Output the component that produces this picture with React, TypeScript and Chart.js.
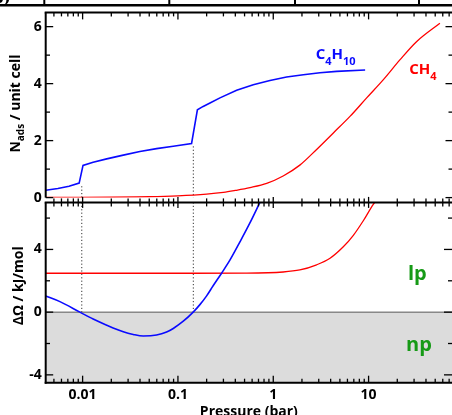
import React, { useEffect, useRef } from 'react';
import { Chart, registerables } from 'chart.js';

Chart.register(...registerables);

// ---------- data ----------
const X_MIN = 0.0041;
const X_MAX = 75;
const X_TICK_VALUES = [0.01, 0.1, 1, 10];
const X_TICK_LABELS = ['0.01', '0.1', '1', '10'];

const TOP_Y_TICKS = [0, 2, 4, 6];
const TOP_Y_MINOR = [1, 3, 5];
const BOT_Y_TICKS = [-4, 0, 4];
const BOT_Y_MINOR = [-2, 2, 6];

// upper panel: N_ads (molecules / unit cell)
const C4H10_N_P = [
  0.0041, 0.0055, 0.0072, 0.0092, 0.0101, 0.0129, 0.0179, 0.0267, 0.0399, 0.0597, 0.0893, 0.139,
  0.16, 0.184, 0.217, 0.276, 0.413, 0.617, 0.923, 1.38, 2.07, 3.09, 4.62, 9.2,
];
const C4H10_N = [
  0.26, 0.32, 0.4, 0.51, 1.13, 1.24, 1.36, 1.49, 1.62, 1.72, 1.8, 1.9,
  3.08, 3.2, 3.32, 3.5, 3.77, 3.96, 4.11, 4.23, 4.31, 4.38, 4.43, 4.48,
];
const CH4_N_P = [0.0041, 0.05, 0.1, 0.2, 0.3, 0.4, 0.57, 0.853, 1.27, 1.9, 2.85, 4.27, 6.38, 9.55, 14.3, 21.4, 32, 56];
const CH4_N = [0.003, 0.03, 0.06, 0.12, 0.18, 0.25, 0.35, 0.5, 0.76, 1.14, 1.69, 2.27, 2.85, 3.5, 4.14, 4.84, 5.48, 6.12];

// lower panel: ΔΩ (kJ/mol)
const C4H10_DG_P = [
  0.0041, 0.00578, 0.00937, 0.0129, 0.0179, 0.0267, 0.034, 0.0433, 0.0597, 0.076, 0.0893, 0.1138,
  0.1445, 0.17, 0.2, 0.234, 0.288, 0.352, 0.447, 0.569, 0.724,
];
const C4H10_DG = [
  1.03, 0.67, 0, -0.44, -0.83, -1.25, -1.42, -1.52, -1.46, -1.27, -1.04, -0.58,
  0, 0.48, 1.04, 1.68, 2.5, 3.33, 4.48, 5.69, 7.0,
];
const CH4_DG_P = [0.0041, 0.1, 0.5, 1.27, 1.9, 2.85, 3.94, 5.43, 6.92, 8.8, 11.2, 11.6];
const CH4_DG = [2.48, 2.48, 2.49, 2.56, 2.69, 3.02, 3.44, 4.17, 4.9, 5.83, 6.88, 7.0];

// step (transition) pressures and where the dotted guides start in the upper panel
const STEP_P = [0.0098, 0.145];
const STEP_N_START = [0.4, 1.8];

// ---------- styling ----------
const FONT = '"Open Sans", sans-serif';
const BLUE = '#0a0aff';
const RED = '#ff0000';
const GREEN = '#169a16';

const pts = (xs: number[], ys: number[]) => xs.map((x, i) => ({ x, y: ys[i] }));

function xTicks() {
  const major: number[] = [];
  const minor: number[] = [];
  for (let e = -3; e <= 2; e++) {
    for (let k = 1; k <= 9; k++) {
      const v = k * Math.pow(10, e);
      if (v < X_MIN || v > X_MAX) continue;
      (k === 1 ? major : minor).push(v);
    }
  }
  return { major, minor };
}

function seg(ctx: CanvasRenderingContext2D, x1: number, y1: number, x2: number, y2: number) {
  ctx.beginPath();
  ctx.moveTo(x1, y1);
  ctx.lineTo(x2, y2);
  ctx.stroke();
}

type Part = { t: string; size: number; dy: number };

function drawParts(ctx: CanvasRenderingContext2D, x: number, y: number, parts: Part[], color: string) {
  ctx.save();
  ctx.fillStyle = color;
  ctx.textBaseline = 'alphabetic';
  ctx.textAlign = 'left';
  let cx = x;
  for (const p of parts) {
    ctx.font = `bold ${p.size}px ${FONT}`;
    ctx.fillText(p.t, cx, y + p.dy);
    cx += ctx.measureText(p.t).width;
  }
  ctx.restore();
}

function drawRotated(ctx: CanvasRenderingContext2D, baseX: number, centerY: number, parts: Part[]) {
  ctx.save();
  ctx.translate(baseX, centerY);
  ctx.rotate(-Math.PI / 2);
  let total = 0;
  for (const p of parts) {
    ctx.font = `bold ${p.size}px ${FONT}`;
    total += ctx.measureText(p.t).width;
  }
  ctx.fillStyle = '#000';
  ctx.textBaseline = 'alphabetic';
  ctx.textAlign = 'left';
  let x = -total / 2;
  for (const p of parts) {
    ctx.font = `bold ${p.size}px ${FONT}`;
    ctx.fillText(p.t, x, p.dy);
    x += ctx.measureText(p.t).width;
  }
  ctx.restore();
}

const topDecor = {
  id: 'topDecor',
  afterDraw(chart: any) {
    const { ctx, chartArea: a, scales } = chart;
    const xs = scales.x;
    const ys = scales.y;
    const { major, minor } = xTicks();
    ctx.save();
    ctx.strokeStyle = '#000';
    // remnants of the panel above
    ctx.lineWidth = 2.4;
    seg(ctx, 0, 5.3, 460, 5.3);
    ctx.lineWidth = 2;
    for (const vx of [44.3, 169.3, 295, 419]) seg(ctx, vx, 0, vx, 5.3);
    ctx.fillStyle = '#000';
    ctx.font = 'bold 15px "DejaVu Serif"';
    ctx.textAlign = 'right';
    ctx.textBaseline = 'alphabetic';
    ctx.fillText('(b)', 10.5, 2.5);

    // frame
    ctx.lineWidth = 2;
    seg(ctx, a.left - 1, a.top, a.right + 2, a.top);
    seg(ctx, a.left, a.top, a.left, a.bottom);
    // top x ticks
    ctx.lineWidth = 1.3;
    for (const v of major) { const p = xs.getPixelForValue(v); seg(ctx, p, a.top, p, a.top + 7); }
    for (const v of minor) { const p = xs.getPixelForValue(v); seg(ctx, p, a.top, p, a.top + 4); }
    // y ticks
    for (const v of TOP_Y_TICKS) {
      const p = ys.getPixelForValue(v);
      seg(ctx, a.left, p, a.left + 7.5, p);
      seg(ctx, a.right, p, a.right - 6.5, p);
    }
    for (const v of TOP_Y_MINOR) {
      const p = ys.getPixelForValue(v);
      seg(ctx, a.left, p, a.left + 4.3, p);
      seg(ctx, a.right, p, a.right - 3.5, p);
    }
    ctx.restore();

    drawParts(ctx, 315.7, 59.3, [
      { t: 'C', size: 15, dy: 0 },
      { t: '4', size: 11, dy: 5.5 },
      { t: 'H', size: 15, dy: 0 },
      { t: '10', size: 11, dy: 5.5 },
    ], BLUE);
    drawParts(ctx, 409.3, 74.3, [
      { t: 'CH', size: 15, dy: 0 },
      { t: '4', size: 11, dy: 5.5 },
    ], RED);
    drawRotated(ctx, 20, 103.5, [
      { t: 'N', size: 14, dy: 0 },
      { t: 'ads', size: 10, dy: 3.5 },
      { t: ' / unit cell', size: 14, dy: 0 },
    ]);
  },
};

const botDecor = {
  id: 'botDecor',
  afterDraw(chart: any) {
    const { ctx, chartArea: a, scales } = chart;
    const xs = scales.x;
    const ys = scales.y;
    const { major, minor } = xTicks();
    ctx.save();
    ctx.strokeStyle = '#000';
    ctx.lineWidth = 2;
    seg(ctx, a.left - 1, a.top, a.right + 2, a.top);
    seg(ctx, a.left - 1, a.bottom, a.right + 2, a.bottom);
    seg(ctx, a.left, a.top, a.left, a.bottom + 1);
    ctx.lineWidth = 1.3;
    for (const v of major) {
      const p = xs.getPixelForValue(v);
      seg(ctx, p, a.top - 5.5, p, a.top + 5.5);
      seg(ctx, p, a.bottom, p, a.bottom - 7);
    }
    for (const v of minor) {
      const p = xs.getPixelForValue(v);
      seg(ctx, p, a.top - 4, p, a.top + 4);
      seg(ctx, p, a.bottom, p, a.bottom - 4);
    }
    for (const v of BOT_Y_TICKS) {
      const p = ys.getPixelForValue(v);
      seg(ctx, a.left, p, a.left + 7.5, p);
      seg(ctx, a.right, p, a.right - 8, p);
    }
    for (const v of BOT_Y_MINOR) {
      const p = ys.getPixelForValue(v);
      seg(ctx, a.left, p, a.left + 4.3, p);
      seg(ctx, a.right, p, a.right - 4, p);
    }
    ctx.restore();

    drawParts(ctx, 408, 90, [{ t: 'lp', size: 20, dy: 0 }], GREEN);
    drawParts(ctx, 406, 160.7, [{ t: 'np', size: 20, dy: 0 }], GREEN);
    drawRotated(ctx, 22.5, 95.8, [{ t: 'ΔΩ / kJ/mol', size: 14, dy: 0 }]);
  },
};

const lineDs = (label: string, data: any[], color: string, width: number, smooth: boolean) => ({
  label,
  data,
  borderColor: color,
  backgroundColor: color,
  borderWidth: width,
  pointRadius: 0,
  fill: false,
  tension: 0,
  cubicInterpolationMode: smooth ? ('monotone' as const) : ('default' as const),
});

const dotDs = (data: any[]) => ({
  label: 'transition',
  data,
  borderColor: '#333',
  borderWidth: 1,
  borderDash: [1.2, 2.2],
  pointRadius: 0,
  fill: false,
  tension: 0,
});

const tickFont = { family: FONT, weight: 'bold' as const, size: 14 };

export default function App() {
  const topRef = useRef<HTMLCanvasElement>(null);
  const botRef = useRef<HTMLCanvasElement>(null);

  useEffect(() => {
    const top = new Chart(topRef.current!, {
      type: 'line',
      data: {
        datasets: [
          lineDs('C4H10', pts(C4H10_N_P, C4H10_N), BLUE, 1.6, false),
          lineDs('CH4', pts(CH4_N_P, CH4_N), RED, 1.3, true),
          dotDs([{ x: STEP_P[0], y: STEP_N_START[0] }, { x: STEP_P[0], y: 0 }]),
          dotDs([{ x: STEP_P[1], y: STEP_N_START[1] }, { x: STEP_P[1], y: 0 }]),
        ] as any,
      },
      options: {
        responsive: false,
        animation: false,
        devicePixelRatio: 1,
        layout: { padding: { left: 0, top: 12.3, right: 8, bottom: 11.7 } },
        plugins: { legend: { display: false }, tooltip: { enabled: false } },
        scales: {
          x: { type: 'logarithmic', min: X_MIN, max: X_MAX, display: false },
          y: {
            type: 'linear',
            min: 0,
            max: 6.5,
            grid: { display: false, drawTicks: false },
            border: { display: false },
            ticks: { font: tickFont, color: '#000', padding: 4 },
            afterBuildTicks: (s: any) => { s.ticks = TOP_Y_TICKS.map((v) => ({ value: v })); },
            afterFit: (s: any) => { s.width = 45.7; },
          },
        },
      },
      plugins: [topDecor],
    });

    const bot = new Chart(botRef.current!, {
      type: 'line',
      data: {
        datasets: [
          lineDs('C4H10 ΔΩ', pts(C4H10_DG_P, C4H10_DG), BLUE, 1.6, true),
          lineDs('CH4 ΔΩ', pts(CH4_DG_P, CH4_DG), RED, 1.3, true),
          dotDs([{ x: STEP_P[0], y: 7 }, { x: STEP_P[0], y: 0 }]),
          dotDs([{ x: STEP_P[1], y: 7 }, { x: STEP_P[1], y: 0 }]),
          {
            label: 'np region',
            data: [{ x: X_MIN, y: 0 }, { x: X_MAX, y: 0 }],
            borderColor: '#555',
            borderWidth: 1,
            backgroundColor: '#dcdcdc',
            pointRadius: 0,
            fill: 'start',
          },
        ] as any,
      },
      options: {
        responsive: false,
        animation: false,
        devicePixelRatio: 1,
        layout: { padding: { left: 0, top: 8.3, right: 8, bottom: 0 } },
        plugins: { legend: { display: false }, tooltip: { enabled: false } },
        scales: {
          x: {
            type: 'logarithmic',
            min: X_MIN,
            max: X_MAX,
            grid: { display: false, drawTicks: false },
            border: { display: false },
            ticks: {
              font: tickFont,
              color: '#000',
              padding: 4,
              autoSkip: false,
              maxRotation: 0,
              callback: (_v: any, i: number) => X_TICK_LABELS[i],
            },
            afterBuildTicks: (s: any) => { s.ticks = X_TICK_VALUES.map((v) => ({ value: v })); },
            afterFit: (s: any) => { s.height = 37.3; },
            title: {
              display: true,
              text: 'Pressure (bar)',
              font: { family: FONT, weight: 'bold', size: 14 },
              color: '#000',
              padding: { top: 0, bottom: 0 },
            },
          },
          y: {
            type: 'linear',
            min: -4.5,
            max: 7,
            grid: { display: false, drawTicks: false },
            border: { display: false },
            ticks: { font: tickFont, color: '#000', padding: 4 },
            afterBuildTicks: (s: any) => { s.ticks = BOT_Y_TICKS.map((v) => ({ value: v })); },
            afterFit: (s: any) => { s.width = 45.7; },
          },
        },
      },
      plugins: [botDecor],
    });

    return () => {
      top.destroy();
      bot.destroy();
    };
  }, []);

  return (
    <div style={{ position: 'fixed', left: 0, top: 0, width: 452, height: 415, overflow: 'hidden', background: '#fff' }}>
      <canvas ref={topRef} width={460} height={210} style={{ position: 'absolute', left: 0, top: 0, width: 460, height: 210 }} />
      <canvas ref={botRef} width={460} height={230} style={{ position: 'absolute', left: 0, top: 190, width: 460, height: 230 }} />
    </div>
  );
}
